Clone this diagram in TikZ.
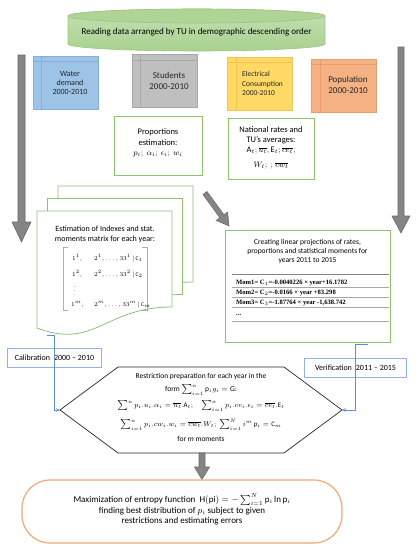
\documentclass[tikz,border=0pt]{standalone}
\usepackage{fontspec}
\setmainfont{Carlito}
\newfontfamily\tabserif{Liberation Serif}
\usetikzlibrary{arrows.meta,calc}
\definecolor{cyltop}{HTML}{C5E0B4}
\definecolor{cylbot}{HTML}{A9D18E}
\definecolor{cylbord}{HTML}{9CC582}
\definecolor{gbord}{HTML}{8DC26F}
\definecolor{bluebord}{HTML}{8EB4E3}
\definecolor{bline}{HTML}{5B8FD6}
\definecolor{arrfill}{HTML}{858585}
\definecolor{arrbord}{HTML}{6A6A6A}
\definecolor{waterF}{HTML}{9DC3E6}
\definecolor{waterD}{HTML}{86AEDC}
\definecolor{studF}{HTML}{BFBFBF}
\definecolor{studD}{HTML}{A8A8A8}
\definecolor{elecF}{HTML}{FFD966}
\definecolor{elecD}{HTML}{F5C54E}
\definecolor{popF}{HTML}{F4B183}
\definecolor{popD}{HTML}{EE9B6C}
\definecolor{orbord}{HTML}{F2A873}
\definecolor{tabline}{HTML}{A6A6A6}
\tikzset{
  fs/.style={font=\pgfmathsetmacro\fsb{#1*1.2}\fontsize{#1}{\fsb}\selectfont},
  blockarrow/.style={fill=arrfill, draw=arrbord, line width=0.6pt},
  databox/.style={minimum width=65pt, minimum height=53pt, line width=0.7pt},
  greenbox/.style={draw=gbord, fill=white, line width=0.8pt},
  bluelabel/.style={draw=bluebord, fill=white, line width=0.8pt, minimum height=19pt, inner xsep=4pt, fs=8},
  blueconn/.style={draw=bline, line width=0.7pt, -{Stealth[length=4pt,width=3.5pt]}},
  sheet/.style={draw=gbord, fill=white, line width=0.8pt},
  tabrow/.style={anchor=base west, font=\tabserif\bfseries\fontsize{6.6}{7}\selectfont},
  mrow/.style={anchor=base west, fs=5.6},
}
\begin{document}
\begin{tikzpicture}[x=1pt,y=-1pt, every node/.style={inner sep=0pt}]
\useasboundingbox (0,0) rectangle (420,550);

% cylinder
\path[top color=cyltop, bottom color=cylbot, draw=cylbord, line width=0.6pt]
  (68,16) -- (68,44) arc[start angle=180, end angle=0, x radius=128.5, y radius=7]
  -- (325,16) arc[start angle=0, end angle=-180, x radius=128.5, y radius=7] -- cycle;
\path[fill=cylbot!80!cyltop, draw=cylbord, line width=0.6pt] (196.5,16) ellipse[x radius=128.5, y radius=7];
\node[fs=9] (read) at (196.5,32) {Reading data arranged by TU in demographic descending order};

% big vertical arrows
\path[blockarrow] (18,55) -- (25,55) -- (25,222) -- (31,222) -- (21.5,242) -- (12,222) -- (18,222) -- cycle;
\path[blockarrow] (398,47) -- (404,47) -- (404,216) -- (410,216) -- (401,233) -- (392,216) -- (398,216) -- cycle;

% data boxes
\node[databox, fill=waterF, draw=waterD] (water) at (65.5,82.5) {};
\node[databox, fill=studF, draw=studD] (stud) at (164.5,81) {};
\node[databox, fill=elecF, draw=elecD] (elec) at (260,83.5) {};
\node[databox, fill=popF, draw=popD] (pop) at (344,85.5) {};
\foreach \b/\c in {water/waterD, stud/studD, elec/elecD, pop/popD}{
  \draw[\c, line width=0.6pt] ([xshift=9pt]\b.north west) -- ([xshift=9pt]\b.south west);
  \draw[\c, line width=0.6pt] ([yshift=-6pt]\b.north west) -- ([yshift=-6pt]\b.north east);
}
\node[fs=8, align=center, text=black!85] (waterT) at (70,83) {Water\\[-0.5pt]demand\\[-0.5pt]2000-2010};
\node[fs=9, align=center, text=black!85] (studT) at (169,81) {Students\\[-0.5pt]2000-2010};
\node[fs=7.5, align=left, anchor=west, text=black!85] (elecT) at (242,83.5) {Electrical\\[0.5pt]Consumption\\[0.5pt]2000-2010};
\node[fs=9, align=center, text=black!85] (popT) at (348,85) {Population\\[-0.5pt]2000-2010};

% proportions / national
\node[greenbox, minimum width=88pt, minimum height=59pt] (prop) at (158,145.5) {};
\node[fs=8.5, align=center] (propT) at (158,143) {Proportions\\estimation:\\$p_i;\ \alpha_i;\ \epsilon_i;\ w_i$};
\node[greenbox, minimum width=86pt, minimum height=61pt] (nat) at (271,148.5) {};
\node[fs=8.5, align=center] (natT) at (271,148) {National rates and\\TU's averages:\\$\mathrm{A}_t;\overline{u_t};\mathrm{E}_t;\overline{ce_t};$\\[5pt]$W_t;\,;\,\overline{cw_t}$};

% document stack
\foreach \dx/\dy in {21/-25, 10.5/-12.5, 0/0}{
  \path[sheet, shift={(\dx,\dy)}] (37,211) -- (172,211) -- (172,307)
     .. controls (104.5,307) and (95,350) .. (37,328) -- cycle;
}
\node[fs=8, align=center] (estT) at (105,234.5) {Estimation of Indexes and stat.\\moments matrix for each year:};
\draw[bluebord, line width=0.9pt] (68,247) -- (63,247) -- (63,310) -- (68,310);
\draw[bluebord, line width=0.9pt] (142,247) -- (147,247) -- (147,310) -- (142,310);
\node[mrow] (r1a) at (72,260) {$1^1,$};
\node[mrow] (r1b) at (94,260) {$2^1,\dots,33^1\,|\,\mathrm{C}_1$};
\node[mrow] (r2a) at (72,276) {$1^2,$};
\node[mrow] (r2b) at (94,276) {$2^2,\dots,33^2\,|\,\mathrm{C}_2$};
\node[fs=5] (r3a) at (75,288) {$\vdots$};
\node[mrow] (rma) at (71,306) {$1^m,$};
\node[mrow] (rmb) at (94,306) {$2^m,\dots,33^m\,|\,\mathrm{C}_m$};

% diagonal arrow
\path[blockarrow] (207.02,191.53) -- (223.96,214.82) -- (227.60,212.17) -- (229,226)
  -- (216.28,220.41) -- (219.92,217.76) -- (202.98,194.47) -- cycle;

% projections box
\node[greenbox, minimum width=165pt, minimum height=112pt] (proj) at (307.5,286) {};
\node[fs=7.5, align=center] (projT) at (307.5,251.5) {Creating linear projections of rates,\\proportions and statistical moments for\\years 2011 to 2015};
\draw[tabline!80!black, line width=0.6pt] (232,274) -- (389,274);
\foreach \yy in {287,297,307,321}{\draw[tabline, line width=0.5pt] (232,\yy) -- (389,\yy);}
\node[tabrow] (m1) at (236,284) {Mom1= C$_1$=-0.0040226 × year+16.1782};
\node[tabrow] (m2) at (236,294.5) {Mom2= C$_2$=-0.0166 × year +83.298};
\node[tabrow] (m3) at (236,304.5) {Mom3= C$_3$=-1.87764 × year -1,638.742};
\node[tabrow] (m4) at (236,315) {...};

% hexagon
\coordinate (hexW) at (60,410);
\coordinate (hexE) at (342,410);
\draw[black!85, line width=0.7pt] (hexW) -- (118,367) -- (284,367) -- (hexE) -- (284,453) -- (118,453) -- cycle;
\node[fs=7.5] (hexT1) at (201,376.5) {Restriction preparation for each year in the};
\node[fs=7.5] (hexT1b) at (201,390) {form $\sum\nolimits_{i=1}^{n}\mathrm{p}_i g_i=\mathrm{G}$:};
\node[fs=6.8] (hexT2) at (201,406) {$\sum\nolimits^{n}p_i.u_i.\alpha_i=\overline{u_t}.\mathrm{A}_t;\quad\sum\nolimits_{i=1}^{n}p_i.ce_i.\epsilon_i=\overline{ce_t}.\mathrm{E}_t$};
\node[fs=6.8] (hexT3) at (201,424.5) {$\sum\nolimits_{i=1}^{n}p_i.cw_i.w_i=\overline{cw_t}.W_t;\ \sum\nolimits_{i=1}^{N}i^m\,\mathrm{p}_i=\mathrm{C}_m$};
\node[fs=7.5] (hexT4) at (201,439) {for \textit{m} moments};

% calibration / verification
\node[bluelabel, minimum width=94pt] (cal) at (54.5,357.5) {Calibration\hspace{4pt}2000 – 2010};
\node[bluelabel, minimum width=102pt] (ver) at (355.5,367.5) {Verification\hspace{4pt}2011 – 2015};
\coordinate (calS) at (47,335);
\coordinate (verS) at (368,344);
\draw[blueconn] (calS) -- (54,335) -- (54,410) -- (hexW);
\draw[blueconn] (verS) -- (355,344) -- (355,410) -- (hexE);

% arrow to final
\path[blockarrow] (199,453) -- (205,453) -- (205,467) -- (209.5,467) -- (202,479.5) -- (194.5,467) -- (199,467) -- cycle;

% final box
\node[draw=orbord, line width=1.2pt, rounded corners=28pt, minimum width=320pt, minimum height=63pt, fill=white] (final) at (182,511.5) {};
\node[fs=9, align=center] (finalT) at (182,509.5) {Maximization of entropy function\ \ $\mathrm{H(pi)}=-\sum\nolimits_{i=1}^{N}\mathrm{p}_i\ln\mathrm{p}_i$\\finding best distribution of $p_i$ subject to given\\restrictions and estimating errors};
\end{tikzpicture}
\end{document}
